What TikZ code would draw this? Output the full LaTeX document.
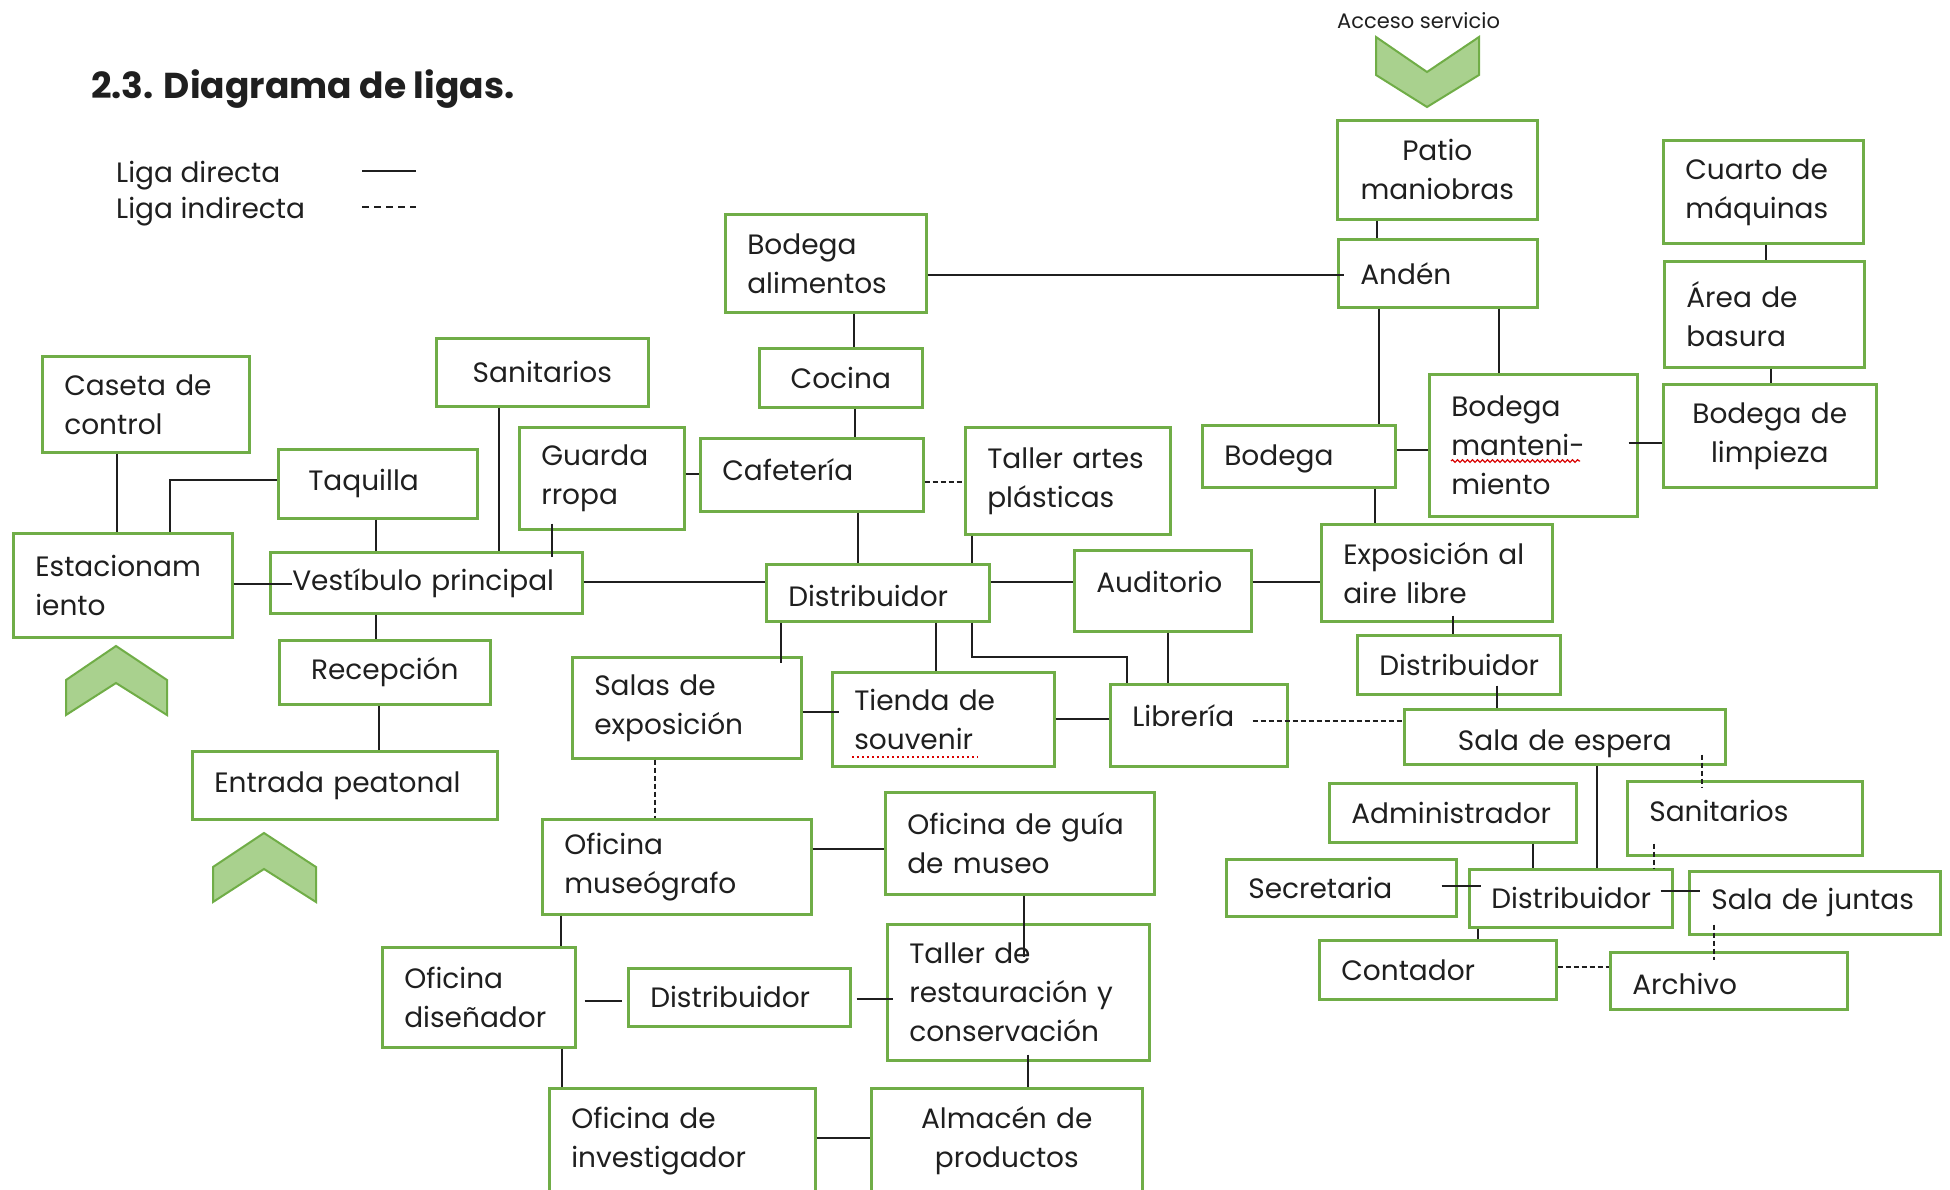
\documentclass[tikz,border=0pt]{standalone}
\usepackage{fontspec}
\setmainfont{Poppins}
\usetikzlibrary{decorations.pathmorphing}
\definecolor{grn}{HTML}{70AD47}
\definecolor{grnl}{HTML}{A9D18E}
\definecolor{ink}{HTML}{1F1F1F}
\tikzset{
  room/.style  = {draw=grn, line width=2.6pt, anchor=north west, inner xsep=22pt, inner ysep=3pt,
                  align=left, text=ink, font=\fontsize{28}{39}\selectfont},
  roomc/.style = {room, align=center},
  lk/.style    = {line width=1.4pt, draw=ink},
  lki/.style   = {lk, dash pattern=on 5pt off 3pt},
  chev/.style  = {draw=grn, line width=2pt, fill=grnl, line join=miter},
  spell/.style = {draw=red!85!black, line width=1.2pt},
  txt/.style   = {anchor=base west, inner sep=0pt, text=ink, font=\fontsize{28}{39}\selectfont},
}
\newcommand{\up}[2]{\raisebox{#1}[\height][\depth]{#2}}

\begin{document}
\begin{tikzpicture}[x=1pt, y=-1pt]
\useasboundingbox (0,0) rectangle (1950,1189);

\node[txt, font=\fontsize{36}{40}\selectfont\bfseries] (titulo) at (91,98) {2.3. Diagrama de ligas.};
\node[txt] (ldir) at (116,182) {Liga directa};
\node[txt] (lind) at (116,218) {Liga indirecta};
\draw[lk]  (362,171) -- (416,171);
\draw[lk, dash pattern=on 7pt off 5pt] (362,207) -- (416,207);
\node[txt, font=\fontsize{21}{24}\selectfont] (acceso) at (1337,28) {Acceso servicio};

% accesos
\draw[chev] (1376,37) -- (1427,72) -- (1479,37) -- (1479,75) -- (1427,107) -- (1376,75) -- cycle;
\draw[chev] (116,646) -- (167,680) -- (167,715) -- (116,683) -- (66,715) -- (66,680) -- cycle;
\draw[chev] (264,833) -- (316,867) -- (316,902) -- (264,869) -- (213,902) -- (213,867) -- cycle;

% espacios
\node[room, text width=163pt, minimum height=96pt]  (caseta)  at (41,355)   {Caseta~de\\control};
\node[roomc, text width=168pt, minimum height=68pt] (san1)    at (435,337)  {Sanitarios};
\node[room, text width=155pt, minimum height=69pt]  (taq)     at (277,448)  {\hspace*{8pt}Taquilla};
\node[room, text width=175pt, minimum height=104pt] (estac)   at (12,532)   {Estacionam\\iento};
\node[room, text width=268pt, minimum height=61pt]  (vest)    at (269,551)  {Vestíbulo~principal};
\node[room, text width=121pt, minimum height=102pt] (guard)   at (518,426)  {Guarda\\rropa};
\node[roomc, text width=167pt, minimum height=64pt] (recep)   at (278,639)  {Recepción};
\node[room, text width=261pt, minimum height=68pt]  (entrada) at (191,750)  {Entrada~peatonal};
\node[room, text width=157pt, minimum height=98pt]  (bodal)   at (724,213)  {Bodega\\alimentos};
\node[roomc, text width=119pt, minimum height=59pt] (cocina)  at (758,347)  {Cocina};
\node[room, text width=179pt, minimum height=73pt]  (cafe)    at (699,437)  {\up{5pt}{Cafetería}};
\node[room, text width=161pt, minimum height=107pt] (taller)  at (964,426)  {Taller~artes\\plásticas};
\node[room, text width=179pt, minimum height=57pt]  (dist1)   at (765,563)  {\up{-3pt}{Distribuidor}};
\node[room, text width=133pt, minimum height=81pt]  (audit)   at (1073,549) {\up{9pt}{Auditorio}};
\node[room, text width=185pt, minimum height=101pt] (salas)   at (571,656)  {Salas~de\\exposición};
\node[room, text width=178pt, minimum height=94pt]  (tienda)  at (831,671)  {Tienda~de\\souvenir};
\node[room, text width=133pt, minimum height=82pt]  (libr)    at (1109,683) {\up{10pt}{Librería}};
\node[roomc, text width=156pt, minimum height=99pt] (patio)   at (1336,119) {Patio\\maniobras};
\node[room, text width=155pt, minimum height=68pt]  (anden)   at (1337,238) {Andén};
\node[room, text width=156pt, minimum height=103pt] (cuarto)  at (1662,139) {Cuarto~de\\máquinas};
\node[room, text width=156pt, minimum height=106pt] (area)    at (1663,260) {Área~de\\basura};
\node[roomc, text width=169pt, minimum height=103pt] (bodlimp) at (1662,383) {Bodega~de\\limpieza};
\node[room, text width=149pt, minimum height=62pt]  (bodega)  at (1201,424) {\up{-3pt}{Bodega}};
\node[room, text width=164pt, minimum height=142pt] (bodman)  at (1428,373) {Bodega\\manteni-\\miento};
\node[room, text width=187pt, minimum height=97pt]  (expo)    at (1320,523) {Exposición~al\\aire~libre};
\node[room, text width=159pt, minimum height=59pt]  (dist2)   at (1356,634) {Distribuidor};
\node[roomc, text width=277pt, minimum height=55pt] (espera)  at (1403,708) {\up{-7pt}{Sala~de~espera}};
\node[room, text width=203pt, minimum height=59pt]  (admin)   at (1328,782) {Administrador};
\node[room, text width=191pt, minimum height=74pt]  (san2)    at (1626,780) {\up{7pt}{Sanitarios}};
\node[room, text width=186pt, minimum height=57pt]  (secre)   at (1225,858) {Secretaria};
\node[room, text width=159pt, minimum height=58pt]  (dist3)   at (1468,868) {Distribuidor};
\node[room, text width=207pt, minimum height=63pt]  (juntas)  at (1688,870) {Sala~de~juntas};
\node[room, text width=193pt, minimum height=59pt]  (conta)   at (1318,939) {Contador};
\node[room, text width=193pt, minimum height=57pt]  (archivo) at (1609,951) {\up{-3pt}{Archivo}};
\node[room, text width=225pt, minimum height=95pt]  (museo)   at (541,818)  {Oficina\\museógrafo};
\node[room, text width=225pt, minimum height=102pt] (guia)    at (884,791)  {Oficina~de~guía\\de~museo};
\node[room, text width=149pt, minimum height=100pt] (disen)   at (381,946)  {Oficina\\diseñador};
\node[room, text width=178pt, minimum height=58pt]  (dist4)   at (627,967)  {Distribuidor};
\node[room, text width=218pt, minimum height=136pt] (tallres) at (886,923)  {Taller~de\\restauración~y\\conservación};
\node[room, text width=222pt, minimum height=105pt] (invest)  at (548,1087) {Oficina~de\\investigador};
\node[roomc, text width=227pt, minimum height=105pt] (almacen) at (870,1087) {Almacén~de\\productos};

\draw[spell, decorate, decoration={snake, amplitude=1.3pt, segment length=5pt}] (1451,461) -- (1580,461);
\draw[spell, dash pattern=on 2pt off 3pt] (852,757) -- (978,757);

% ligas directas
\draw[lk] (caseta.south -| 117,0) -- (estac.north -| 117,0);
\draw[lk] (taq.west |- 0,480) -| (estac.north -| 170,0);
\draw[lk, shorten >=-23pt] (estac.east |- 0,584) -- (vest.west |- 0,584);
\draw[lk] (taq.south -| 376,0) -- (vest.north -| 376,0);
\draw[lk] (san1.south -| 499,0) -- (vest.north -| 499,0);
\draw[lk, shorten <=-7pt, shorten >=-6pt] (guard.south -| 552,0) -- (vest.north -| 552,0);
\draw[lk] (vest.south -| 376,0) -- (recep.north -| 376,0);
\draw[lk] (recep.south -| 379,0) -- (entrada.north -| 379,0);
\draw[lk] (vest.east |- 0,582) -- (dist1.west |- 0,582);
\draw[lk] (guard.east |- 0,474) -- (cafe.west |- 0,474);
\draw[lk] (bodal.south -| 854,0) -- (cocina.north -| 854,0);
\draw[lk] (cocina.south -| 855,0) -- (cafe.north -| 855,0);
\draw[lk, shorten >=-7pt] (bodal.east |- 0,275) -- (anden.west |- 0,275);
\draw[lk] (cafe.south -| 858,0) -- (dist1.north -| 858,0);
\draw[lk] (taller.south -| 972,0) -- (dist1.north -| 972,0);
\draw[lk] (dist1.east |- 0,582) -- (audit.west |- 0,582);
\draw[lk, shorten >=-7pt] (dist1.south -| 781,0) -- (salas.north -| 781,0);
\draw[lk] (dist1.south -| 936,0) -- (tienda.north -| 936,0);
\draw[lk] (dist1.south -| 972,0) -- (972,657) -| (libr.north -| 1127,0);
\draw[lk, shorten >=-8pt] (salas.east |- 0,712) -- (tienda.west |- 0,712);
\draw[lk] (tienda.east |- 0,719) -- (libr.west |- 0,719);
\draw[lk] (audit.south -| 1168,0) -- (libr.north -| 1168,0);
\draw[lk] (audit.east |- 0,582) -- (expo.west |- 0,582);
\draw[lk] (patio.south -| 1377,0) -- (anden.north -| 1377,0);
\draw[lk] (anden.south -| 1379,0) -- (bodega.north -| 1379,0);
\draw[lk] (anden.south -| 1499,0) -- (bodman.north -| 1499,0);
\draw[lk] (bodega.east |- 0,450) -- (bodman.west |- 0,450);
\draw[lk, shorten <=-10pt] (bodman.east |- 0,443) -- (bodlimp.west |- 0,443);
\draw[lk] (cuarto.south -| 1766,0) -- (area.north -| 1766,0);
\draw[lk] (area.south -| 1771,0) -- (bodlimp.north -| 1771,0);
\draw[lk] (bodega.south -| 1375,0) -- (expo.north -| 1375,0);
\draw[lk, shorten <=-7pt] (expo.south -| 1453,0) -- (dist2.north -| 1453,0);
\draw[lk, shorten <=-10pt] (dist2.south -| 1497,0) -- (espera.north -| 1497,0);
\draw[lk] (espera.south -| 1597,0) -- (dist3.north -| 1597,0);
\draw[lk] (admin.south -| 1533,0) -- (dist3.north -| 1533,0);
\draw[lk, shorten <=-16pt, shorten >=-13pt] (secre.east |- 0,886) -- (dist3.west |- 0,886);
\draw[lk, shorten <=-13pt, shorten >=-12pt] (dist3.east |- 0,891) -- (juntas.west |- 0,891);
\draw[lk] (dist3.south -| 1478,0) -- (conta.north -| 1478,0);
\draw[lk] (museo.east |- 0,849) -- (guia.west |- 0,849);
\draw[lk] (museo.south -| 561,0) -- (disen.north -| 561,0);
\draw[lk, shorten <=8pt, shorten >=5pt] (disen.east |- 0,1001) -- (dist4.west |- 0,1001);
\draw[lk, shorten <=5pt, shorten >=-7pt] (dist4.east |- 0,999) -- (tallres.west |- 0,999);
\draw[lk, shorten >=-34pt] (guia.south -| 1024,0) -- (tallres.north -| 1024,0);
\draw[lk] (disen.south -| 562,0) -- (invest.north -| 562,0);
\draw[lk] (invest.east |- 0,1138) -- (almacen.west |- 0,1138);
\draw[lk, shorten <=-7pt] (tallres.south -| 1028,0) -- (almacen.north -| 1028,0);

% ligas indirectas
\draw[lki] (cafe.east |- 0,482) -- (taller.west |- 0,482);
\draw[lki] (salas.south -| 655,0) -- (museo.north -| 655,0);
\draw[lki, shorten <=-36pt] (libr.east |- 0,721) -- (espera.west |- 0,721);
\draw[lki, shorten <=-11pt, shorten >=-8pt] (espera.south -| 1702,0) -- (san2.north -| 1702,0);
\draw[lki, shorten <=-13pt] (san2.south -| 1654,0) -- (dist3.north -| 1654,0);
\draw[lki] (conta.east |- 0,967) -- (archivo.west |- 0,967);
\draw[lki, shorten <=-11pt, shorten >=-9pt] (juntas.south -| 1714,0) -- (archivo.north -| 1714,0);
\end{tikzpicture}
\end{document}
